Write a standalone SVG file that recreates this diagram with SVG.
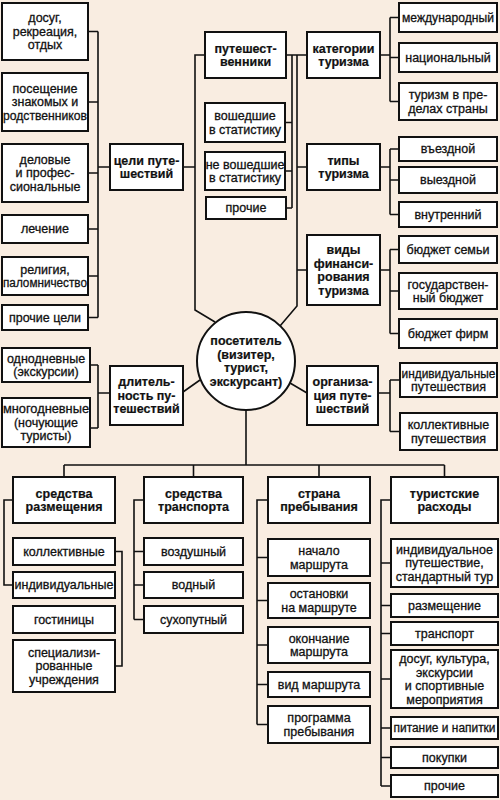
<svg xmlns="http://www.w3.org/2000/svg" width="500" height="800" viewBox="0 0 500 800">
<style>
.b{fill:#fff;stroke:#111;stroke-width:2}
.t{font-family:"Liberation Sans",Arial,sans-serif;font-size:12.5px;fill:#111;stroke:#111;stroke-width:0.3;text-anchor:middle}
.h{font-weight:bold;stroke-width:0.2}
.c{fill:none;stroke:#111;stroke-width:1.6}
</style>
<rect x="0" y="0" width="500" height="800" fill="#f9ede1"/>
<g id="connectors" class="c">
<path d="M88 31.5H98M88 102H98M88 173H98M88 229H98M88 276H98M88 317.5H98M98 31.5V317.5M98 167H110"/>
<path d="M205 55H195V310L215 322M183 167H195"/>
<path d="M286 55H307M292 55V208M285 122.5H292M285 171H292M286 208H292"/>
<path d="M297 55V306L280 326M297 167H307M297 270H307"/>
<path d="M380 55H390M390 17.5V101.5M390 17.5H399M390 57.5H399M390 101.5H399"/>
<path d="M380 167H390M390 149V214.5M390 149H399M390 180H399M390 214.5H399"/>
<path d="M380 270H390M390 249.5V333.5M390 249.5H399M390 291H399M390 333.5H399"/>
<path d="M200 380L183 392M110 393H98M98 365V428M90 365H98M90 428H98"/>
<path d="M290 383L307 393M378 393H390M390 380V431.5M390 380H400M390 431.5H400"/>
<path d="M246 410V465M64 465H444.5M64 465V477M193.5 465V477M319 465V477M444.5 465V477"/>
<path d="M13 500H4V585H13M115 551.5H122V666H115"/>
<path d="M144 500H134V619.5M134 551.5H144M134 585H144M134 619.5H144"/>
<path d="M268 500H257V724.5M257 557.5H268M257 600.5H268M257 645H268M257 684.5H268M257 724.5H268"/>
<path d="M391 500H381V786M381 563H391M381 605.5H391M381 633.5H391M381 679H391M381 728H391M381 757.5H391M381 786H391"/>
</g>
<g id="n_dosug"><rect class="b" x="2" y="3" width="86" height="57"/><text class="t" x="45" y="22.4"><tspan x="45">досуг,</tspan><tspan x="45" dy="13.5">рекреация,</tspan><tspan x="45" dy="13.5">отдых</tspan></text></g>
<g id="n_poseshch"><rect class="b" x="2" y="73" width="86" height="58"/><text class="t" x="45" y="92.9"><tspan x="45">посещение</tspan><tspan x="45" dy="13.5">знакомых и</tspan><tspan x="45" dy="13.5" textLength="84" lengthAdjust="spacingAndGlyphs">родственников</tspan></text></g>
<g id="n_delovye"><rect class="b" x="2" y="144" width="86" height="58"/><text class="t" x="45" y="163.9"><tspan x="45">деловые</tspan><tspan x="45" dy="13.5">и профес-</tspan><tspan x="45" dy="13.5">сиональные</tspan></text></g>
<g id="n_lechenie"><rect class="b" x="2" y="215" width="86" height="28"/><text class="t" x="45" y="233.4">лечение</text></g>
<g id="n_religia"><rect class="b" x="2" y="257" width="86" height="38"/><text class="t" x="45" y="273.65"><tspan x="45">религия,</tspan><tspan x="45" dy="13.5" textLength="84" lengthAdjust="spacingAndGlyphs">паломничество</tspan></text></g>
<g id="n_prochie_celi"><rect class="b" x="2" y="305" width="86" height="25"/><text class="t" x="45" y="321.9">прочие цели</text></g>
<g id="n_celi"><rect class="b" x="110" y="144" width="73" height="46"/><text class="t h" x="146.5" y="164.65"><tspan x="146.5">цели путе-</tspan><tspan x="146.5" dy="13.5">шествий</tspan></text></g>
<g id="n_puteshestv"><rect class="b" x="205" y="32" width="81" height="46"/><text class="t h" x="245.5" y="52.65"><tspan x="245.5">путешест-</tspan><tspan x="245.5" dy="13.5">венники</tspan></text></g>
<g id="n_voshedshie"><rect class="b" x="205" y="103" width="80" height="39"/><text class="t" x="245" y="120.15"><tspan x="245">вошедшие</tspan><tspan x="245" dy="13.5">в статистику</tspan></text></g>
<g id="n_ne_voshedshie"><rect class="b" x="205" y="152" width="80" height="38"/><text class="t" x="245" y="168.65"><tspan x="245">не вошедшие</tspan><tspan x="245" dy="13.5">в статистику</tspan></text></g>
<g id="n_prochie_p"><rect class="b" x="206" y="197" width="80" height="22"/><text class="t" x="246" y="212.4">прочие</text></g>
<g id="n_kategorii"><rect class="b" x="307" y="32" width="73" height="46"/><text class="t h" x="343.5" y="52.65"><tspan x="343.5">категории</tspan><tspan x="343.5" dy="13.5">туризма</tspan></text></g>
<g id="n_tipy"><rect class="b" x="307" y="144" width="73" height="46"/><text class="t h" x="343.5" y="164.65"><tspan x="343.5">типы</tspan><tspan x="343.5" dy="13.5">туризма</tspan></text></g>
<g id="n_vidy"><rect class="b" x="307" y="235" width="73" height="70"/><text class="t h" x="343.5" y="254.15"><tspan x="343.5">виды</tspan><tspan x="343.5" dy="13.5">финанси-</tspan><tspan x="343.5" dy="13.5">рования</tspan><tspan x="343.5" dy="13.5">туризма</tspan></text></g>
<g id="n_mezhd"><rect class="b" x="399" y="3" width="98" height="29"/><text class="t" x="448" y="21.9" textLength="92" lengthAdjust="spacingAndGlyphs">международный</text></g>
<g id="n_nac"><rect class="b" x="399" y="43" width="98" height="29"/><text class="t" x="448" y="61.9">национальный</text></g>
<g id="n_vpredelah"><rect class="b" x="399" y="83" width="98" height="37"/><text class="t" x="448" y="99.15"><tspan x="448">туризм в пре-</tspan><tspan x="448" dy="13.5">делах страны</tspan></text></g>
<g id="n_vezd"><rect class="b" x="399" y="137" width="98" height="24"/><text class="t" x="448" y="153.4">въездной</text></g>
<g id="n_vyezd"><rect class="b" x="399" y="167" width="98" height="26"/><text class="t" x="448" y="184.4">выездной</text></g>
<g id="n_vnutr"><rect class="b" x="399" y="202" width="98" height="25"/><text class="t" x="448" y="218.9">внутренний</text></g>
<g id="n_bsem"><rect class="b" x="399" y="236" width="98" height="27"/><text class="t" x="448" y="253.9">бюджет семьи</text></g>
<g id="n_gos"><rect class="b" x="399" y="273" width="98" height="36"/><text class="t" x="448" y="288.65"><tspan x="448">государствен-</tspan><tspan x="448" dy="13.5">ный бюджет</tspan></text></g>
<g id="n_bfirm"><rect class="b" x="399" y="319" width="98" height="29"/><text class="t" x="448" y="337.9">бюджет фирм</text></g>
<g id="n_posetitel"><circle class="b" cx="246" cy="361" r="49"/><text class="t h" x="246" y="345.15"><tspan x="246">посетитель</tspan><tspan x="246" dy="13.5">(визитер,</tspan><tspan x="246" dy="13.5">турист,</tspan><tspan x="246" dy="13.5">экскурсант)</tspan></text></g>
<g id="n_dlit"><rect class="b" x="110" y="366" width="73" height="59"/><text class="t h" x="146.5" y="386.4"><tspan x="146.5">длитель-</tspan><tspan x="146.5" dy="13.5">ность пу-</tspan><tspan x="146.5" dy="13.5">тешествий</tspan></text></g>
<g id="n_odnodn"><rect class="b" x="2" y="348" width="88" height="34"/><text class="t" x="46" y="362.65"><tspan x="46">однодневные</tspan><tspan x="46" dy="13.5">(экскурсии)</tspan></text></g>
<g id="n_mnogodn"><rect class="b" x="2" y="398" width="88" height="49"/><text class="t" x="46" y="413.4"><tspan x="46" textLength="86" lengthAdjust="spacingAndGlyphs">многодневные</tspan><tspan x="46" dy="13.5">(ночующие</tspan><tspan x="46" dy="13.5">туристы)</tspan></text></g>
<g id="n_org"><rect class="b" x="307" y="366" width="71" height="59"/><text class="t h" x="342.5" y="386.4"><tspan x="342.5">организа-</tspan><tspan x="342.5" dy="13.5">ция путе-</tspan><tspan x="342.5" dy="13.5">шествий</tspan></text></g>
<g id="n_indiv_p"><rect class="b" x="400" y="363" width="97" height="34"/><text class="t" x="448.5" y="377.65"><tspan x="448.5" textLength="94" lengthAdjust="spacingAndGlyphs">индивидуальные</tspan><tspan x="448.5" dy="13.5">путешествия</tspan></text></g>
<g id="n_koll_p"><rect class="b" x="400" y="413" width="97" height="37"/><text class="t" x="448.5" y="429.15"><tspan x="448.5">коллективные</tspan><tspan x="448.5" dy="13.5">путешествия</tspan></text></g>
<g id="n_sr_razm"><rect class="b" x="13" y="477" width="102" height="46"/><text class="t h" x="64" y="497.65"><tspan x="64">средства</tspan><tspan x="64" dy="13.5">размещения</tspan></text></g>
<g id="n_sr_transp"><rect class="b" x="144" y="477" width="99" height="46"/><text class="t h" x="193.5" y="497.65"><tspan x="193.5">средства</tspan><tspan x="193.5" dy="13.5">транспорта</tspan></text></g>
<g id="n_strana"><rect class="b" x="268" y="477" width="102" height="46"/><text class="t h" x="319" y="497.65"><tspan x="319">страна</tspan><tspan x="319" dy="13.5">пребывания</tspan></text></g>
<g id="n_rashody"><rect class="b" x="391" y="477" width="107" height="46"/><text class="t h" x="444.5" y="497.65"><tspan x="444.5">туристские</tspan><tspan x="444.5" dy="13.5">расходы</tspan></text></g>
<g id="n_koll"><rect class="b" x="13" y="538" width="102" height="27"/><text class="t" x="64" y="555.9">коллективные</text></g>
<g id="n_indiv"><rect class="b" x="13" y="572" width="102" height="26"/><text class="t" x="64" y="589.4">индивидуальные</text></g>
<g id="n_gost"><rect class="b" x="13" y="606" width="102" height="27"/><text class="t" x="64" y="623.9">гостиницы</text></g>
<g id="n_spec"><rect class="b" x="13" y="640" width="102" height="52"/><text class="t" x="64" y="656.9"><tspan x="64">специализи-</tspan><tspan x="64" dy="13.5">рованные</tspan><tspan x="64" dy="13.5">учреждения</tspan></text></g>
<g id="n_vozd"><rect class="b" x="144" y="538" width="99" height="27"/><text class="t" x="193.5" y="555.9">воздушный</text></g>
<g id="n_vodn"><rect class="b" x="144" y="572" width="99" height="26"/><text class="t" x="193.5" y="589.4">водный</text></g>
<g id="n_suhop"><rect class="b" x="144" y="606" width="99" height="27"/><text class="t" x="193.5" y="623.9">сухопутный</text></g>
<g id="n_nachalo"><rect class="b" x="268" y="539" width="102" height="37"/><text class="t" x="319" y="555.15"><tspan x="319">начало</tspan><tspan x="319" dy="13.5">маршрута</tspan></text></g>
<g id="n_ostanovki"><rect class="b" x="268" y="583" width="102" height="35"/><text class="t" x="319" y="598.15"><tspan x="319">остановки</tspan><tspan x="319" dy="13.5">на маршруте</tspan></text></g>
<g id="n_okonch"><rect class="b" x="268" y="627" width="102" height="36"/><text class="t" x="319" y="642.65"><tspan x="319">окончание</tspan><tspan x="319" dy="13.5">маршрута</tspan></text></g>
<g id="n_vid_marsh"><rect class="b" x="268" y="672" width="102" height="25"/><text class="t" x="319" y="688.9">вид маршрута</text></g>
<g id="n_programma"><rect class="b" x="268" y="706" width="102" height="37"/><text class="t" x="319" y="722.15"><tspan x="319">программа</tspan><tspan x="319" dy="13.5">пребывания</tspan></text></g>
<g id="n_indiv_tur"><rect class="b" x="391" y="539" width="107" height="48"/><text class="t" x="444.5" y="553.9"><tspan x="444.5">индивидуальное</tspan><tspan x="444.5" dy="13.5">путешествие,</tspan><tspan x="444.5" dy="13.5">стандартный тур</tspan></text></g>
<g id="n_razm"><rect class="b" x="391" y="594" width="107" height="23"/><text class="t" x="444.5" y="609.9">размещение</text></g>
<g id="n_transp"><rect class="b" x="391" y="622" width="107" height="23"/><text class="t" x="444.5" y="637.9">транспорт</text></g>
<g id="n_dosug2"><rect class="b" x="391" y="650" width="107" height="58"/><text class="t" x="444.5" y="663.15"><tspan x="444.5">досуг, культура,</tspan><tspan x="444.5" dy="13.5">экскурсии</tspan><tspan x="444.5" dy="13.5">и спортивные</tspan><tspan x="444.5" dy="13.5">мероприятия</tspan></text></g>
<g id="n_pitanie"><rect class="b" x="391" y="717" width="107" height="22"/><text class="t" x="444.5" y="732.4" textLength="102" lengthAdjust="spacingAndGlyphs">питание и напитки</text></g>
<g id="n_pokupki"><rect class="b" x="391" y="747" width="107" height="21"/><text class="t" x="444.5" y="761.9">покупки</text></g>
<g id="n_prochie2"><rect class="b" x="391" y="775" width="107" height="22"/><text class="t" x="444.5" y="790.4">прочие</text></g>
</svg>
